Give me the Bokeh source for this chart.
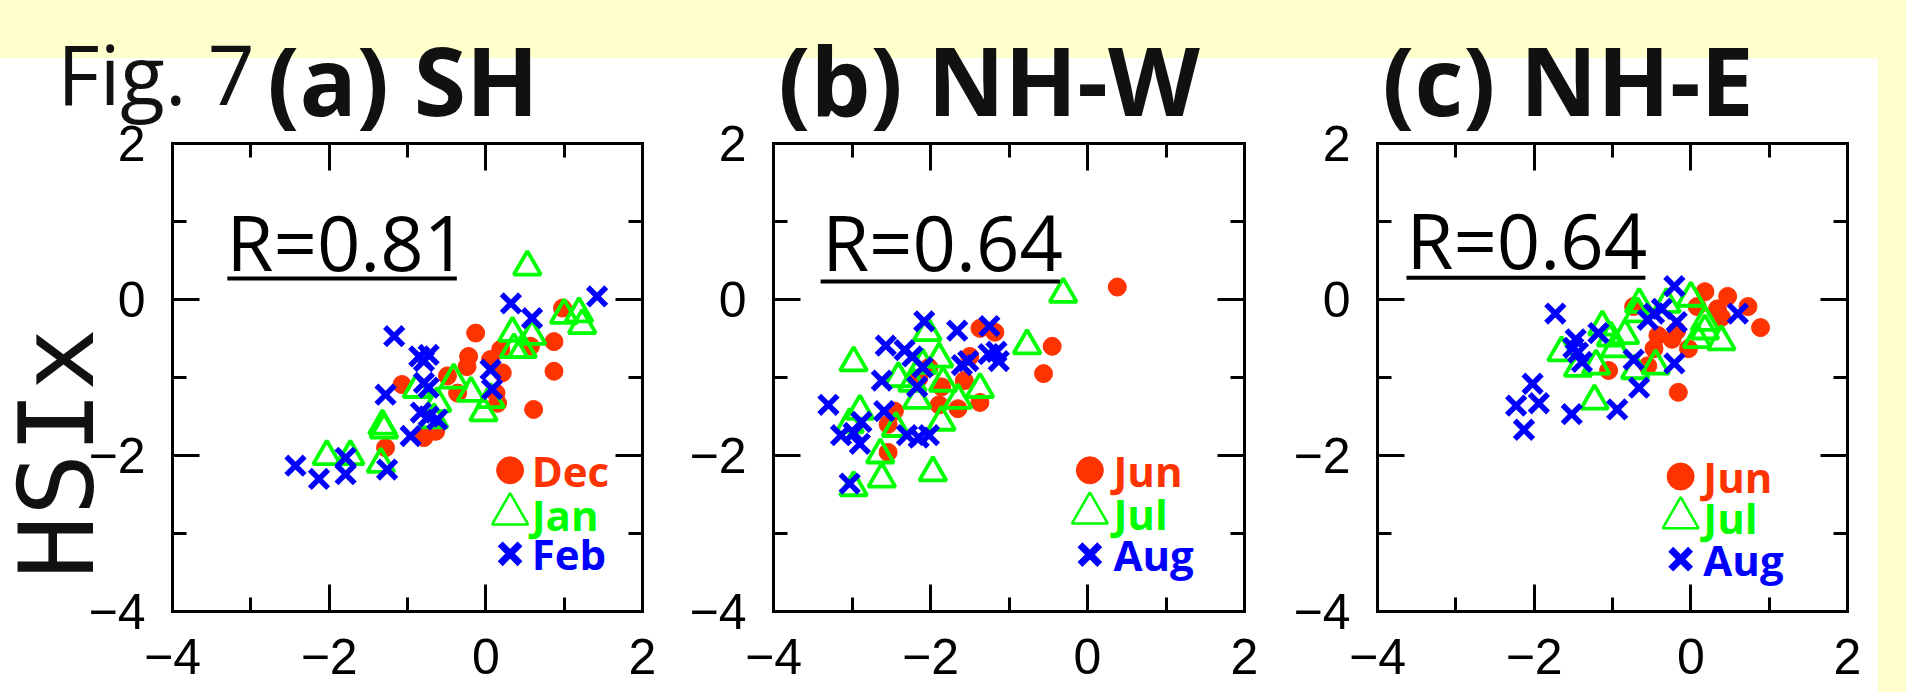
from bokeh.plotting import figure
from bokeh.layouts import row
from bokeh.models import FixedTicker, LinearAxis, Label, Range1d
from bokeh.embed import file_html
from bokeh.resources import INLINE
from bokeh.core.properties import value

# ---------------- data ----------------
# (a) SH
sh_dec_x = [-0.13, -0.22, -0.24, -1.07, -0.36, -1.28, -0.79, -0.64, 0.19, 0.21, 0.13, 0.15, 0.87, 0.87, 0.61, 0.98, 0.57, -0.49, 0.06]
sh_dec_y = [-0.43, -0.73, -0.86, -1.09, -1.20, -1.90, -1.77, -1.69, -0.64, -0.94, -1.20, -1.33, -0.54, -0.92, -1.41, -0.11, -0.60, -0.98, -0.77]
sh_jan_x = [0.53, -2.03, -1.73, -1.34, -1.30, -1.32, -0.88, -0.66, -0.41, -0.19, -0.03, 0.06, 0.34, 0.36, 0.47, 0.59, 1.00, 1.19, 1.23, -0.62]
sh_jan_y = [0.42, -2.01, -2.01, -2.11, -1.67, -1.62, -1.15, -1.54, -1.03, -1.20, -1.45, -1.28, -0.43, -0.64, -0.64, -0.47, -0.20, -0.18, -0.33, -1.33]
sh_feb_x = [-2.43, -2.13, -1.79, -1.79, -1.26, -1.17, -1.28, -0.85, -0.73, -0.79, -0.79, -0.73, -0.83, -0.73, -0.62, -0.96, 0.06, 0.08, 0.32, 0.59, 1.42]
sh_feb_y = [-2.13, -2.30, -2.03, -2.24, -2.18, -0.47, -1.22, -0.73, -0.71, -0.79, -1.07, -1.13, -1.45, -1.50, -1.54, -1.75, -0.90, -1.15, -0.05, -0.24, 0.04]

# (b) NH-W
nhw_jun_x = [0.38, -0.45, -0.56, -1.37, -1.18, -1.50, -1.57, -1.37, -1.65, -1.89, -1.86, -2.46, -2.54, -2.54, -2.02, -2.15]
nhw_jun_y = [0.16, -0.60, -0.95, -0.37, -0.42, -0.73, -1.04, -1.32, -1.40, -1.35, -1.12, -1.43, -1.60, -1.96, -0.87, -1.01]
nhw_jul_x = [-0.31, -0.77, -1.37, -1.65, -1.86, -1.97, -2.62, -2.64, -2.98, -2.98, -2.90, -3.03, -2.41, -2.17, -2.04, -1.89, -1.84, -2.44, -2.23, -2.10]
nhw_jul_y = [0.07, -0.59, -1.15, -1.29, -1.57, -2.22, -2.30, -1.99, -0.81, -2.41, -1.43, -1.60, -1.01, -1.29, -0.42, -0.76, -1.07, -1.65, -1.07, -0.84]
nhw_aug_x = [-2.08, -1.66, -1.25, -2.57, -2.33, -2.23, -2.10, -2.62, -2.17, -3.30, -2.59, -3.14, -2.98, -2.90, -2.88, -2.30, -2.15, -2.02, -1.60, -1.52, -1.26, -1.13, -1.16, -3.03]
nhw_aug_y = [-0.28, -0.40, -0.34, -0.59, -0.65, -0.73, -0.87, -1.04, -1.12, -1.35, -1.43, -1.74, -1.71, -1.85, -1.57, -1.74, -1.77, -1.74, -0.84, -0.79, -0.70, -0.79, -0.67, -2.36]

# (c) NH-E
nhe_jun_x = [0.18, 0.47, 0.73, 0.89, 0.34, 0.39, 0.08, -0.73, -0.42, -0.18, -0.03, -0.16, -0.47, -1.05, -0.24, -0.55]
nhe_jun_y = [0.10, 0.04, -0.09, -0.36, -0.12, -0.23, -0.09, -0.09, -0.46, -0.40, -0.63, -1.19, -0.63, -0.91, -0.51, -0.85]
nhe_jul_x = [0.00, 0.18, 0.39, 0.08, 0.18, -0.31, -0.68, -0.84, -1.02, -1.13, -1.65, -1.44, -1.21, -1.23, -0.71, -0.45, -0.97, -0.66]
nhe_jul_y = [0.02, -0.29, -0.54, -0.51, -0.40, -0.06, -0.18, -0.46, -0.49, -0.35, -0.68, -0.88, -0.85, -1.30, -0.91, -0.85, -0.63, -0.06]
nhe_aug_x = [-0.21, 0.60, -1.73, -1.18, -1.47, -1.44, -1.39, -1.50, -2.02, -2.23, -1.94, -2.13, -1.52, -0.94, -0.66, -0.73, -0.21, -0.47, -0.37, -0.18, -0.55]
nhe_aug_y = [0.17, -0.18, -0.18, -0.43, -0.51, -0.68, -0.80, -0.62, -1.08, -1.36, -1.33, -1.67, -1.47, -1.41, -1.13, -0.77, -0.82, -0.18, -0.12, -0.29, -0.26]

panel_titles = ["(a) SH", "(b) NH-W", "(c) NH-E"]
r_texts = ["R=0.81", "R=0.64", "R=0.64"]
months = [["Dec", "Jan", "Feb"], ["Jun", "Jul", "Aug"], ["Jun", "Jul", "Aug"]]
tick_values = [-4, -2, 0, 2]
minor_values = [-3, -1, 1]
tick_labels = ["\u22124", "\u22122", "0", "2"]

# ---------------- layout / style ----------------
RED, GREEN, BLUE = "#FF3300", "#00FF00", "#0000FF"
FIG_H = 692
FIG_W = [668, 602, 636]
BOX_L = [172, 105, 107]          # box left edge inside each canvas (px)
BOX_W = [470, 471, 470]
BOX_TOP, BOX_H = 143, 468
TXT_FONT = "Open Sans"
TICK_FONT = "Liberation Sans"

# positions in data units, per panel
title_pos = [(-2.79, 2.83), (-3.94, 2.83), (-3.94, 2.83)]
r_pos = [(-3.31, 0.75), (-3.38, 0.74), (-3.63, 0.77)]
underline = [(-3.30, -0.37, 0.27), (-3.40, -0.35, 0.23), (-3.63, -0.58, 0.28)]
legend_pos = [(0.31, 0.585, [-2.19, -2.75, -3.26]),
              (0.03, 0.33, [-2.19, -2.74, -3.27]),
              (-0.13, 0.16, [-2.27, -2.80, -3.33])]

series = [
    [(sh_dec_x, sh_dec_y), (sh_jan_x, sh_jan_y), (sh_feb_x, sh_feb_y)],
    [(nhw_jun_x, nhw_jun_y), (nhw_jul_x, nhw_jul_y), (nhw_aug_x, nhw_aug_y)],
    [(nhe_jun_x, nhe_jun_y), (nhe_jul_x, nhe_jul_y), (nhe_aug_x, nhe_aug_y)],
]


def style_axis(ax, labelled, loc):
    ax.fixed_location = loc
    ax.bounds = (-4, 2)
    ax.ticker = FixedTicker(ticks=tick_values, minor_ticks=minor_values)
    ax.axis_line_width = 3
    ax.axis_line_color = "black"
    ax.axis_line_cap = "square"
    ax.major_tick_line_width = 3
    ax.minor_tick_line_width = 3
    ax.major_tick_in = 27
    ax.major_tick_out = 0
    ax.minor_tick_in = 14
    ax.minor_tick_out = 0
    if labelled:
        ax.major_label_overrides = {v: t for v, t in zip(tick_values, tick_labels)}
        ax.major_label_text_font = TICK_FONT
        ax.major_label_text_font_size = "50px"
        ax.major_label_text_color = "black"
    else:
        ax.major_label_overrides = {v: "" for v in tick_values}
        ax.major_label_standoff = 0
        ax.major_label_text_font_size = "1px"


figs = []
for i in range(3):
    px_x = BOX_W[i] / 6.0
    px_y = BOX_H / 6.0
    x0 = -4 - BOX_L[i] / px_x
    x1 = x0 + FIG_W[i] / px_x
    y1 = 2 + BOX_TOP / px_y
    y0 = y1 - FIG_H / px_y
    p = figure(width=FIG_W[i], height=FIG_H, x_range=Range1d(x0, x1), y_range=Range1d(y0, y1),
               output_backend="svg", toolbar_location=None, tools="",
               min_border_left=0, min_border_right=0, min_border_top=0, min_border_bottom=0)
    p.border_fill_color = None
    p.background_fill_color = None
    p.outline_line_color = None
    p.xgrid.grid_line_color = None
    p.ygrid.grid_line_color = None

    style_axis(p.xaxis[0], True, -4)
    p.xaxis[0].major_label_standoff = 27
    style_axis(p.yaxis[0], True, -4)
    p.yaxis[0].major_label_standoff = 27
    top_ax = LinearAxis()
    style_axis(top_ax, False, 2)
    p.add_layout(top_ax, "above")
    right_ax = LinearAxis()
    style_axis(right_ax, False, 2)
    p.add_layout(right_ax, "right")

    (xa, ya), (xb, yb), (xc, yc) = series[i]
    p.scatter(xa, ya, marker="circle", size=18, fill_color=RED, line_color=RED)
    p.scatter(xb, yb, marker="triangle", size=27, fill_color=None, line_color=GREEN, line_width=3.8)
    p.scatter(xc, yc, marker="x", size=26, line_color=BLUE, line_width=5.5)

    # correlation label with underline
    p.text(x=[r_pos[i][0]], y=[r_pos[i][1]], text=[r_texts[i]], text_font=value(TXT_FONT),
           text_font_size="76px", text_color="black", text_baseline="alphabetic")
    u0, u1, uy = underline[i]
    p.segment(x0=[u0], y0=[uy], x1=[u1], y1=[uy], line_color="black", line_width=4)

    # legend (marker + coloured month names)
    mx, tx, ly = legend_pos[i]
    p.scatter([mx], [ly[0]], marker="circle", size=27, fill_color=RED, line_color=RED)
    p.scatter([mx], [ly[1]], marker="triangle", size=36, fill_color=None, line_color=GREEN, line_width=2.5)
    p.scatter([mx], [ly[2]], marker="x", size=28, line_color=BLUE, line_width=7)
    for k, c in enumerate([RED, GREEN, BLUE]):
        p.text(x=[tx], y=[ly[k]], text=[months[i][k]], text_font=value(TXT_FONT), text_font_style="bold",
               text_font_size="42px", text_color=c, text_baseline="middle")

    # panel title
    p.add_layout(Label(x=title_pos[i][0], y=title_pos[i][1], text=panel_titles[i], text_font=TXT_FONT,
                       text_font_style="bold", text_font_size="95px", text_color="#111111",
                       text_baseline="alphabetic"))
    figs.append(p)

p1 = figs[0]
p1.add_layout(Label(x=-5.47, y=2.91, text="Fig. 7", text_font=TXT_FONT, text_font_size="82px",
                    text_color="#111111", text_baseline="alphabetic"))
p1.add_layout(Label(x=-5.48, y=-1.974, text="HSIx", text_font="DejaVu Sans Mono", text_font_size="104px",
                    text_color="#111111", angle=90, angle_units="deg",
                    text_align="center", text_baseline="middle"))

layout = row(*figs, spacing=0, styles={
    "background": "linear-gradient(to right, rgba(255,255,255,0) 1878px, #FFFFCC 1878px), "
                  "linear-gradient(to bottom, #FFFFCC 58px, #FFFFFF 58px)",
})

open("out.html", "w").write(file_html(layout, INLINE))
